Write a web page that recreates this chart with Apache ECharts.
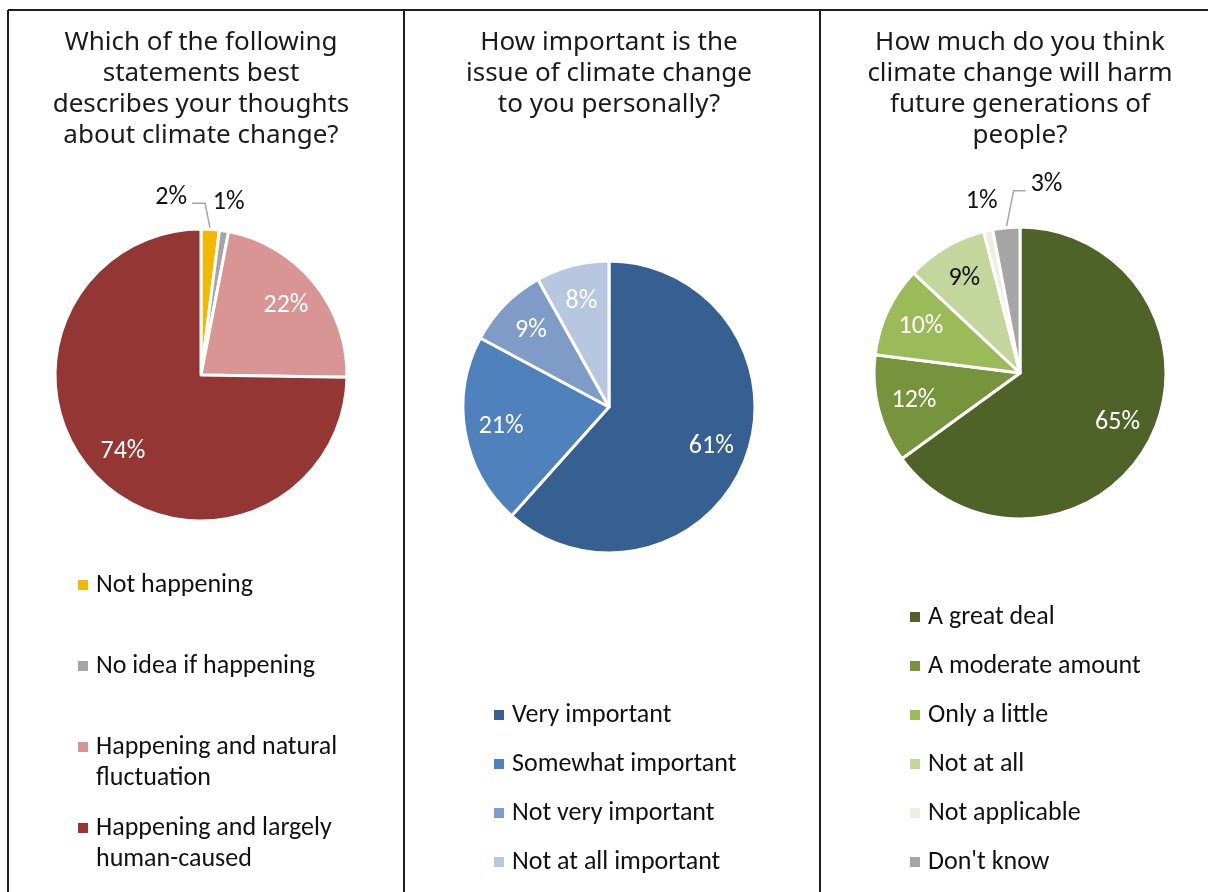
<!DOCTYPE html>
<html>
<head>
<meta charset="utf-8">
<script src="https://cdn.jsdelivr.net/npm/echarts@6/dist/echarts.min.js"></script>
<style>
  html, body { margin: 0; padding: 0; background: #ffffff; }
  #chart { width: 1208px; height: 892px; }
</style>
</head>
<body>
<div id="chart"></div>
<script>
// ---- Survey answers (percent of respondents) ----
const beliefTitle = 'Which of the following\nstatements best\ndescribes your thoughts\nabout climate change?';
const beliefCategories = ['Not happening', 'No idea if happening', 'Happening and natural\nfluctuation', 'Happening and largely\nhuman-caused'];
const beliefValues = [2, 1, 22, 74];

const importanceTitle = 'How important is the\nissue of climate change\nto you personally?';
const importanceCategories = ['Very important', 'Somewhat important', 'Not very important', 'Not at all important'];
const importanceValues = [61, 21, 9, 8];

const harmTitle = 'How much do you think\nclimate change will harm\nfuture generations of\npeople?';
const harmCategories = ['A great deal', 'A moderate amount', 'Only a little', 'Not at all', 'Not applicable', "Don't know"];
const harmValues = [65, 12, 10, 9, 1, 3];

// ---- Styling ----
const BODY_FONT = 'Carlito, Calibri, Lato, sans-serif';
const TITLE_FONT = '"Noto Sans", "Open Sans", sans-serif';
const BODY_SIZE = 26;
const R = 146;

const panels = [
  {
    title: beliefTitle, cats: beliefCategories, vals: beliefValues,
    colors: ['#f5b800', '#a5a5a5', '#d99594', '#943634'],
    labelColors: ['#111', '#111', '#fff', '#fff'],
    cx: 201, cy: 375,
    legendLeft: 78, legendTop: 538.5, legendGap: -12, padLines: true,
    outside: { 0: { flip: true, length: 26, length2: 13 }, 1: { flip: false, length: 29 } }
  },
  {
    title: importanceTitle, cats: importanceCategories, vals: importanceValues,
    colors: ['#366092', '#4f81bd', '#7f9cc8', '#b8c7e0'],
    labelColors: ['#fff', '#fff', '#fff', '#fff'],
    cx: 609, cy: 407,
    legendLeft: 494, legendTop: 699.5, legendGap: 18, padLines: false,
    outside: {}
  },
  {
    title: harmTitle, cats: harmCategories, vals: harmValues,
    colors: ['#4f6228', '#77933c', '#9bbb59', '#c3d69b', '#ebf1de', '#a5a5a5'],
    labelColors: ['#fff', '#fff', '#fff', '#111', '#111', '#111'],
    cx: 1020, cy: 373,
    legendLeft: 910, legendTop: 601.5, legendGap: 18, padLines: false,
    outside: { 4: { flip: false, length: 30 }, 5: { flip: true, length: 37, length2: 12 } }
  }
];

function makeLabelLayout(p) {
  return function (params) {
    const i = params.dataIndex;
    const o = p.outside[i];
    const rect = params.labelRect;
    if (!o) {
      // push inside labels out to three quarters of the radius
      const mx = rect.x + rect.width / 2, my = rect.y + rect.height / 2;
      const dx = mx - p.cx, dy = my - p.cy;
      const d = Math.hypot(dx, dy) || 1;
      return { x: p.cx + dx / d * R * 0.75, y: p.cy + dy / d * R * 0.75, align: 'center', verticalAlign: 'middle' };
    }
    const pts = params.labelLinePoints;
    if (!pts) return {};
    const p1 = pts[0], p2 = pts[1], p3 = pts[2];
    if (!o.flip) {
      return { x: p2[0], y: p2[1], align: 'center', verticalAlign: 'middle' };
    }
    // leader turns to the opposite side of the default
    const side = p3[0] >= p2[0] ? -1 : 1;
    const rise = p1[1] - p2[1];
    const q2 = [p1[0] + side * 0.2 * rise, p2[1]];
    const q3 = [q2[0] + side * o.length2, p2[1]];
    return {
      x: q3[0] + side * 5, y: q3[1] - 6,
      align: side > 0 ? 'left' : 'right', verticalAlign: 'middle',
      labelLinePoints: [[p1[0], p1[1]], q2, q3]
    };
  };
}

function makeSeries(p, k) {
  return {
    type: 'pie',
    name: 'panel' + k,
    center: [p.cx, p.cy],
    radius: [0, R],
    startAngle: 90,
    clockwise: true,
    avoidLabelOverlap: false,
    silent: true,
    animation: false,
    itemStyle: { borderColor: '#ffffff', borderWidth: 3 },
    label: { show: true, position: 'inside', formatter: '{c}%', fontFamily: BODY_FONT, fontSize: BODY_SIZE },
    labelLine: { show: false },
    labelLayout: makeLabelLayout(p),
    data: p.vals.map(function (v, i) {
      const item = {
        name: p.cats[i], value: v,
        itemStyle: { color: p.colors[i] },
        label: { color: p.labelColors[i] }
      };
      const o = p.outside[i];
      if (o) {
        item.label.position = 'outside';
        item.label.distanceToLabelLine = 5;
        item.labelLine = {
          show: true, length: o.length, length2: o.length2 || 0, smooth: false,
          lineStyle: { color: '#a6a6a6', width: 1.5, opacity: o.flip ? 1 : 0 }
        };
      }
      return item;
    })
  };
}

const chart = echarts.init(document.getElementById('chart'), null, { renderer: 'canvas' });

const frame = { stroke: '#1e1e1e', lineWidth: 2 };

chart.setOption({
  backgroundColor: '#ffffff',
  animation: false,
  title: panels.map(function (p) {
    return {
      text: p.title, left: p.cx, top: 27.5, textAlign: 'center', padding: 0,
      textStyle: { fontFamily: TITLE_FONT, fontSize: 26, fontWeight: 'normal', lineHeight: 31, color: '#1a1a1a' }
    };
  }),
  legend: panels.map(function (p) {
    return {
      orient: 'vertical', left: p.legendLeft, top: p.legendTop, padding: 0,
      itemGap: p.legendGap, itemWidth: 10, itemHeight: 10, icon: 'rect',
      selectedMode: false, data: p.cats,
      formatter: function (n) {
        if (!p.padLines) return n;
        return n.indexOf('\n') >= 0 ? '\n' + n : '\n' + n + '\n';
      },
      itemStyle: { borderWidth: 0 },
      textStyle: { fontFamily: BODY_FONT, fontSize: BODY_SIZE, lineHeight: 31, color: '#111', padding: [0, 0, 0, 3] }
    };
  }),
  graphic: [
    { type: 'line', shape: { x1: 8, y1: 10, x2: 1208, y2: 10 }, style: frame },
    { type: 'line', shape: { x1: 8, y1: 10, x2: 8, y2: 892 }, style: frame },
    { type: 'line', shape: { x1: 404, y1: 10, x2: 404, y2: 892 }, style: frame },
    { type: 'line', shape: { x1: 820, y1: 10, x2: 820, y2: 892 }, style: frame }
  ],
  series: panels.map(makeSeries)
});
</script>
</body>
</html>
